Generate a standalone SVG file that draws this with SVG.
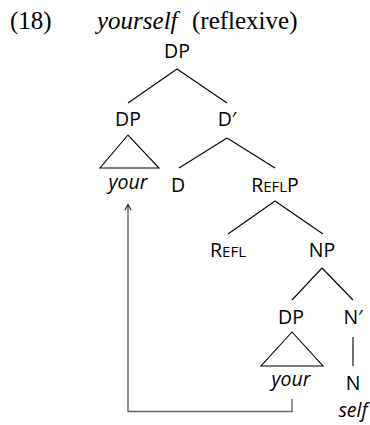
<svg xmlns="http://www.w3.org/2000/svg" width="370" height="425" viewBox="0 0 370 425">
<style>
.t{font-family:"Open Sans","Liberation Sans",sans-serif;font-size:19.5px;fill:#000;text-anchor:middle}
.i{font-style:italic}
.sc{font-size:15px}
.ttl{font-family:"Liberation Serif",serif;font-size:25px;fill:#000}
.e{stroke:#000;stroke-width:1.1;fill:none}
.arr{stroke:#666;stroke-width:1.4;fill:none}
</style>
<defs>
<marker id="ah" viewBox="0 0 10 10" refX="9" refY="5" markerWidth="8" markerHeight="8" markerUnits="userSpaceOnUse" orient="auto">
<path d="M2,1 L9,5 L2,9" stroke="#222" stroke-width="1.4" fill="none"/>
</marker>
</defs>
<g id="title">
<text class="ttl" x="10" y="29">(18)</text>
<text class="ttl" x="97" y="29" font-style="italic">yourself</text>
<text class="ttl" x="192" y="29">(reflexive)</text>
</g>
<g id="edges">
<path class="e" d="M177,69 L128,103 M177,69 L227,103"/>
<path class="e" d="M227,138 L179,168 M227,138 L275,168"/>
<path class="e" d="M275,201 L228,234 M275,201 L323,234"/>
<path class="e" d="M322,268 L292,300 M322,268 L353,300"/>
<path class="e" d="M353,337 L353,366"/>
</g>
<g id="n-dp-top"><text class="t" x="177" y="58">DP</text></g>
<g id="n-dp-left"><text class="t" x="128" y="126">DP</text></g>
<g id="n-tri-left"><path class="e" d="M128,135 L100,168 L159,168 Z"/></g>
<g id="n-your-left"><text class="t i" x="128" y="189">your</text></g>
<g id="n-dbar"><text class="t" x="227" y="126">D′</text></g>
<g id="n-d"><text class="t" x="178" y="192">D</text></g>
<g id="n-reflp"><text class="t" x="275" y="192">R<tspan class="sc">EFL</tspan>P</text></g>
<g id="n-refl"><text class="t" x="228" y="257">R<tspan class="sc">EFL</tspan></text></g>
<g id="n-np"><text class="t" x="322" y="257">NP</text></g>
<g id="n-dp-low"><text class="t" x="291" y="324">DP</text></g>
<g id="n-tri-low"><path class="e" d="M292,332 L261,366 L323,366 Z"/></g>
<g id="n-your-low"><text class="t i" x="291" y="386">your</text></g>
<g id="n-nbar"><text class="t" x="353" y="324">N′</text></g>
<g id="n-n"><text class="t" x="353" y="390">N</text></g>
<g id="n-self"><text class="t i" x="353" y="417">self</text></g>
<g id="movement">
<path class="arr" d="M292,399 V411.5 H128 V204.5" marker-end="url(#ah)"/>
</g>
</svg>
